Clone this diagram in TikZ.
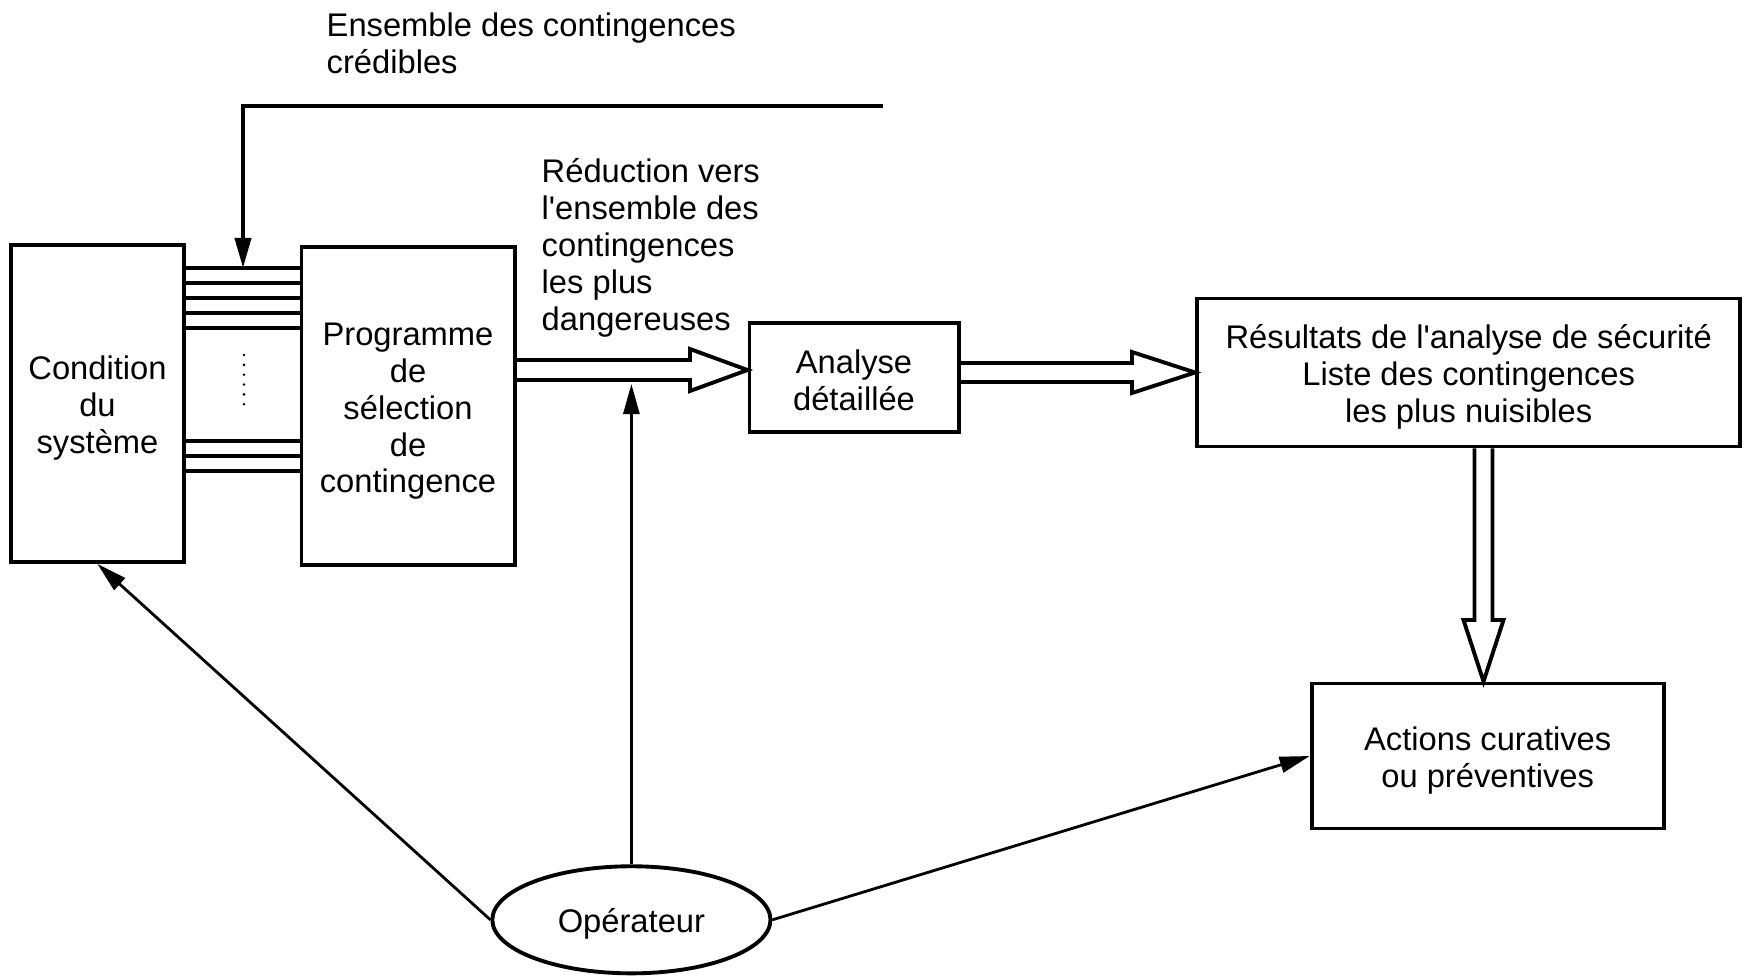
\documentclass[tikz,border=0pt]{standalone}
\usepackage{fontspec}
\setmainfont{Liberation Sans}
\usetikzlibrary{arrows.meta,shapes.geometric}
\newcommand\firstline{\rule{0pt}{9.4pt}}
\begin{document}
\begin{tikzpicture}[x=0.01cm,y=-0.01cm,
    every node/.style={font=\fontsize{9.3}{10.5}\selectfont},
    blk/.style={draw,line width=1.1pt,align=center,inner sep=0pt},
    fat/.style={line width=1.1pt,line join=miter},
    thin arrow/.style={line width=0.8pt,-{Triangle[length=0.3cm,width=0.16cm]}}]
      \useasboundingbox (0,0) rectangle (1746,976);
      \draw
        (97.5,403.5) node[blk,minimum width=1.73cm,minimum height=3.17cm] (cond){\firstline Condition\\du\\système}
        (408,406) node[blk,minimum width=2.13cm,minimum height=3.17cm] (prog){\firstline Programme\\de\\sélection\\de\\contingence}
        (854,377.5) node[blk,minimum width=2.09cm,minimum height=1.09cm] (ana){\rule{0pt}{8.4pt}Analyse\\détaillée}
        (1468.7,372.5) node[blk,minimum width=5.43cm,minimum height=1.48cm] (res){\firstline Résultats de l\textquotesingle analyse de sécurité\\Liste des contingences\\les plus nuisibles}
        (1487.7,756) node[blk,minimum width=3.52cm,minimum height=1.45cm] (act){\firstline Actions curatives\\ou préventives}
        (631.4,919.8) node[blk,ellipse,minimum width=2.78cm,minimum height=1.07cm] (op){\firstline Opérateur};
      \node[anchor=west,align=left,inner sep=0pt] (cred) at (326,43) {Ensemble des contingences\\crédibles};
      \node[anchor=west,align=left,inner sep=0pt] (redu) at (541,248) {Réduction vers\\l\textquotesingle ensemble des\\contingences\\les plus\\dangereuses};
      \coordinate (src) at (883,106);
      \coordinate (bus) at (243,268);
      \coordinate (sel) at (631.4,384);
      % liaisons entre les deux blocs
      \foreach \y in {268,283,298,313,328,441,456,471}
        \draw[fat] (cond.east |- 0,\y) -- (prog.west |- 0,\y);
      \draw[line width=0.8pt,line cap=round,dash pattern=on 0pt off 2.8pt] (244,355) -- (244,411);
      \draw[thin arrow,line width=1.1pt] (src) -| (bus);
      \begin{scope}[fat]
        \draw (prog.east |- 0,360) -- (690,360) -- (690,349) -- (ana.west |- 0,370)
          -- (690,391) -- (690,380) -- (prog.east |- 0,380);
        \draw (ana.east |- 0,363) -- (1132,363) -- (1132,352) -- (res.west)
          -- (1132,393) -- (1132,382) -- (ana.east |- 0,382);
        \draw (1474.5,0 |- res.south) -- (1474.5,620) -- (1463.5,620) -- (1483.5,0 |- act.north)
          -- (1503.5,620) -- (1492.5,620) -- (1492.5,0 |- res.south);
      \end{scope}
      \begin{scope}[thin arrow]
        \draw (op.north) to (sel);
        \draw (op.west) to (cond.south);
        \draw (op.east) to (act.west);
      \end{scope}
    \end{tikzpicture}
\end{document}
